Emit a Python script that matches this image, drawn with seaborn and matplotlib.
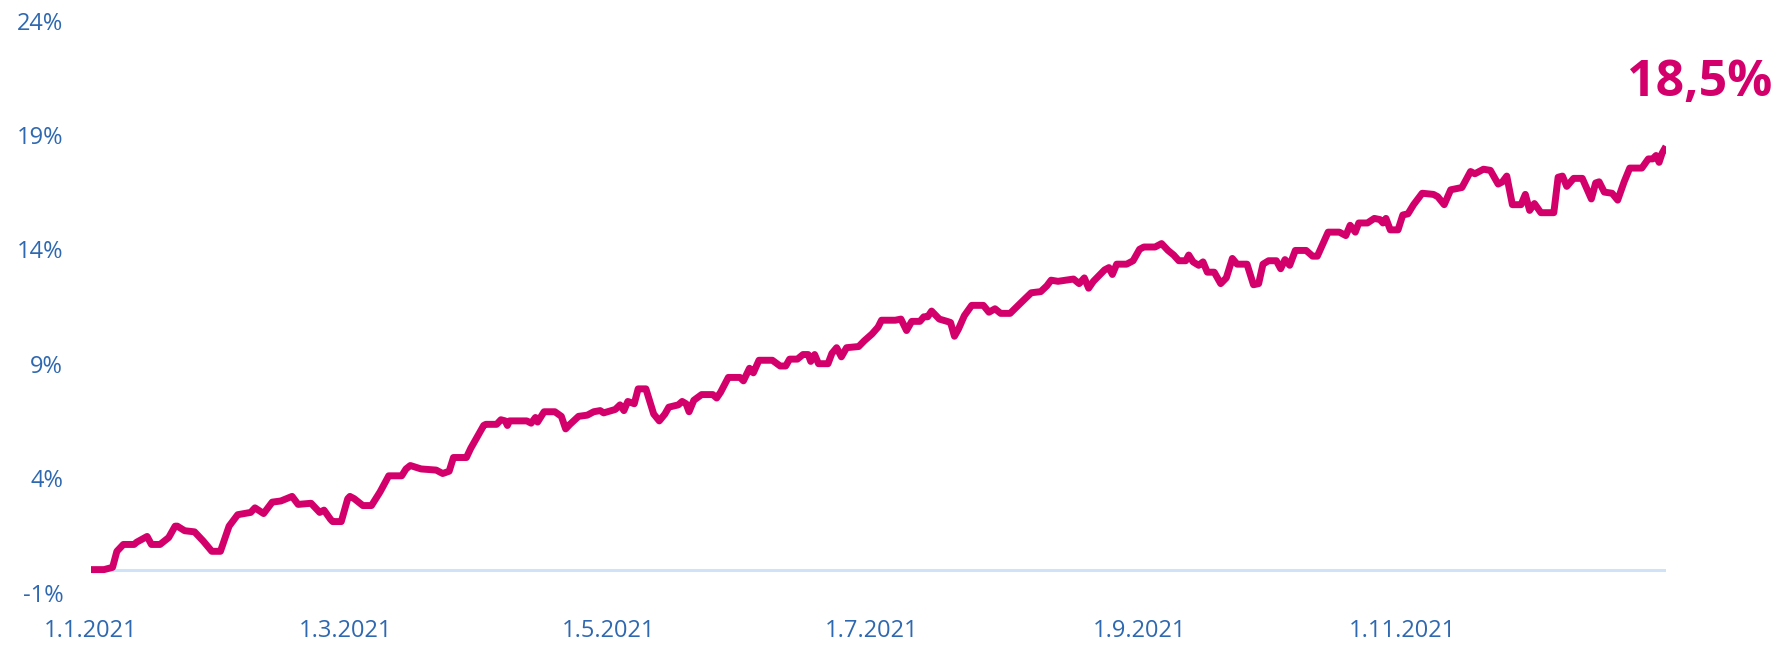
import numpy as np
import pandas as pd
import matplotlib
matplotlib.use("Agg")
import matplotlib.pyplot as plt
import seaborn as sns

# ---- data ----
day_offsets = [
    0, 3, 5, 6, 7.5, 10, 10.6, 13, 14, 16, 18, 19.5, 20, 21.7, 24, 26, 28, 30, 32, 34,
    37, 38, 40, 42, 44, 46.6, 48, 51, 53, 54, 55.5, 56, 58, 59.5, 60, 61, 63, 65, 67, 69,
    72, 73, 74, 76.5, 80, 81.5, 83, 84, 87, 88, 91, 91.5, 94, 95, 96, 96.5, 97, 101, 102, 103,
    103.5, 105, 107.5, 109, 110, 111, 113, 115, 116.5, 118,
    118.8, 121.5, 122.6, 123.5, 124.4, 125.9, 126.8, 128.6, 130.4, 131.7, 133, 133.9, 136.1,
    137, 137.9, 138.6, 139.7, 141.5, 144.1, 145, 145.9, 147.7, 150.4, 151.2, 152.6, 153.5,
    154.8, 157.9, 159.7, 161, 161.9, 163.7, 165, 166.2, 166.8, 167.7, 168.6, 170.8, 171.7,
    172.8, 173.9, 175.1, 177.9, 179.2, 181, 182.4, 183.2, 186.4, 187.7, 189, 190.2, 192.1,
    193, 193.9, 194.8, 196.6, 198.4, 199.2, 200.1, 201, 202.4, 204.1, 206.8, 208.1, 209.5,
    210.8, 213, 215.7, 217.9, 220.1, 221.5, 222.5, 224.1, 227.7, 229, 230.2, 231.2, 232.3,
    234.9, 235.9, 236.7, 237.7, 240, 241.5, 243, 244, 246.6, 248.1, 249.6, 250.9, 252.1,
    253.7, 254.4, 255.4, 256.7, 257.7, 258.7, 260.3, 261.8, 263.1, 264.5, 265.6, 267.9,
    269.4, 270.6, 271.6, 272.9, 274.7, 275.7, 276.7, 277.8, 279.1, 281.6, 283.1, 284.2,
    286.7, 289.3, 290.8, 291.8, 293, 293.8, 295.8, 297.4, 298.7, 299.4, 300.1, 301.1, 302.9,
    304, 305.2, 306.5, 308.5, 311.1, 312.1, 313.6, 315.1, 317.7, 319.7, 320.7, 322.7, 324.3,
    326.1, 327.1, 328.1, 329.4, 331.4, 332.4, 333.4, 334.5, 336, 339, 340, 341, 342, 343.6,
    345.6, 347.7, 348.7, 349.5, 350.7, 352.5, 353.8, 355.3, 356.6, 359.4, 360.9, 361.9,
    362.7, 363.4, 364.1, 365,
]
returns_pct = [
    0.0, 0.0, 0.1, 0.8, 1.1, 1.1, 1.2, 1.45, 1.1, 1.1, 1.4, 1.9, 1.9, 1.7, 1.65, 1.25, 0.8, 0.8, 1.9, 2.4,
    2.5, 2.7, 2.45, 2.95, 3.0, 3.2, 2.85, 2.9, 2.5, 2.6, 2.2, 2.1, 2.1, 3.1, 3.2, 3.1, 2.8, 2.8, 3.4, 4.1,
    4.1, 4.4, 4.55, 4.4, 4.35, 4.2, 4.3, 4.9, 4.9, 5.3, 6.3, 6.35, 6.35, 6.55, 6.5, 6.3, 6.5, 6.5, 6.4, 6.65,
    6.45, 6.9, 6.9, 6.7, 6.15, 6.35, 6.7, 6.75, 6.9, 6.95,
    6.85, 7.0, 7.2, 6.95, 7.35, 7.25, 7.9, 7.9, 6.8, 6.5, 6.8, 7.1, 7.2,
    7.35, 7.25, 6.9, 7.4, 7.65, 7.65, 7.5, 7.75, 8.4, 8.4, 8.25, 8.8, 8.6,
    9.15, 9.15, 8.9, 8.9, 9.2, 9.2, 9.4, 9.4, 9.1, 9.4, 9.0, 9.0, 9.45,
    9.7, 9.3, 9.7, 9.75, 10.0, 10.3, 10.6, 10.9, 10.9, 10.95, 10.45, 10.85, 10.85,
    11.05, 11.05, 11.3, 10.95, 10.85, 10.8, 10.2, 10.5, 11.1, 11.55, 11.55, 11.25, 11.4,
    11.2, 11.2, 11.7, 12.1, 12.15, 12.4, 12.65, 12.6, 12.7, 12.5, 12.75, 12.3, 12.6,
    13.1, 13.2, 12.9, 13.35, 13.35, 13.5, 14.0, 14.1, 14.1, 14.25, 13.95, 13.75, 13.5,
    13.5, 13.75, 13.45, 13.3, 13.45, 13.0, 13.0, 12.5, 12.75, 13.6, 13.35, 13.35,
    12.45, 12.5, 13.35, 13.5, 13.5, 13.15, 13.55, 13.3, 13.95, 13.95, 13.7, 13.7,
    14.75, 14.75, 14.6, 15.05, 14.75, 15.15, 15.15, 15.35, 15.3, 15.15, 15.35, 14.85, 14.85,
    15.5, 15.55, 15.95, 16.45, 16.4, 16.3, 15.95, 16.6, 16.7, 17.4, 17.3, 17.5, 17.45,
    16.85, 16.95, 17.2, 15.95, 15.95, 16.4, 15.7, 16.0, 15.6, 15.6, 17.15, 17.2, 16.75, 17.1,
    17.1, 16.2, 16.9, 16.95, 16.5, 16.45, 16.15, 16.95, 17.55, 17.55, 17.95, 17.95,
    18.1, 17.8, 18.2, 18.5,
]
y_ticks = [-1, 4, 9, 14, 19, 24]
y_tick_labels = ["-1%", "4%", "9%", "14%", "19%", "24%"]
x_tick_dates = ["2021-01-01", "2021-03-01", "2021-05-01", "2021-07-01", "2021-09-01", "2021-11-01"]
x_tick_labels = ["1.1.2021", "1.3.2021", "1.5.2021", "1.7.2021", "1.9.2021", "1.11.2021"]
final_label = "18,5%"

# ---- styling ----
MAGENTA = "#D3006C"
BLUE = "#2E68B0"
BASE = "#CFE2F8"

sns.set_theme(style="white")
plt.rcParams["font.family"] = ["Open Sans", "DejaVu Sans"]

start = pd.Timestamp("2021-01-01")
df = pd.DataFrame({
    "date": start + pd.to_timedelta(day_offsets, unit="D"),
    "value": returns_pct,
})

fig = plt.figure(figsize=(17.83, 6.46), dpi=100)
ax = fig.add_axes([91 / 1783, 53.5 / 646, 1575 / 1783, 572 / 646])

ax.axhline(0, color=BASE, lw=2.2, zorder=1)
sns.lineplot(data=df, x="date", y="value", ax=ax, color=MAGENTA, lw=5.0,
             zorder=3, solid_joinstyle="round", solid_capstyle="butt")

ax.set_xlim(start, start + pd.Timedelta(days=365))
ax.set_ylim(-1, 24)
ax.set_yticks(y_ticks)
ax.set_yticklabels(y_tick_labels)
ax.set_xticks(pd.to_datetime(x_tick_dates))
ax.set_xticklabels(x_tick_labels)
ax.tick_params(axis="y", length=0, pad=20, labelsize=17, labelcolor=BLUE)
ax.tick_params(axis="x", length=0, pad=19, labelsize=17, labelcolor=BLUE)
ax.set_xlabel("")
ax.set_ylabel("")
ax.grid(False)
for s in ax.spines.values():
    s.set_visible(False)

fig.text(1627 / 1783, 1 - 83 / 646, final_label, color=MAGENTA, fontsize=36,
         fontweight="bold", ha="left", va="center")

fig.savefig("out.png", dpi=100, facecolor="white")
